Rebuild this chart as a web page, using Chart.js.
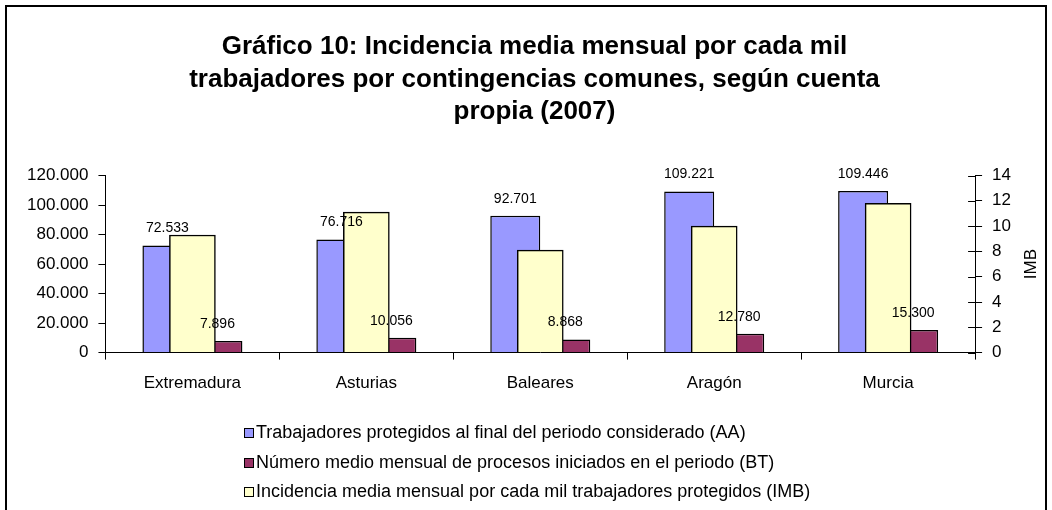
<!DOCTYPE html>
<html>
<head>
<meta charset="utf-8">
<title>Gráfico 10</title>
<script src="https://cdn.jsdelivr.net/npm/chart.js"></script>
<style>
  body { margin: 0; background: #fff; overflow: hidden; }
  #wrap { position: relative; width: 1052px; height: 510px; overflow: hidden; }
  #chart { position: absolute; left: 0; top: 0; }
  #frame { position: absolute; left: 5px; top: 5px; width: 1038px; height: 530px;
           border: 2px solid #000; pointer-events: none; }
</style>
</head>
<body>
<div id="wrap">
  <canvas id="chart" width="1052" height="510"></canvas>
  <div id="frame"></div>
</div>
<script>
// data
const regions = ['Extremadura', 'Asturias', 'Baleares', 'Aragón', 'Murcia'];
const trabajadoresAA = [72533, 76716, 92701, 109221, 109446];
const procesosBT = [7896, 10056, 8868, 12780, 15300];
const incidenciaIMB = [9.3, 11.1, 8.1, 10.0, 11.8];

const labelAA = 'Trabajadores protegidos al final del periodo considerado (AA)';
const labelBT = 'Número medio mensual de procesos iniciados en el periodo (BT)';
const labelIMB = 'Incidencia media mensual por cada mil trabajadores protegidos (IMB)';
const titleLines = [
    'Gráfico 10: Incidencia media mensual por cada mil',
    'trabajadores por contingencias comunes, según cuenta',
    'propia (2007)'
];

const FONT = '"Liberation Sans", Arial, sans-serif';

function fmtMiles(v) {
    return String(v).replace(/\B(?=(\d{3})+(?!\d))/g, '.');
}

// value labels above the AA and BT bars
const valueLabels = {
    id: 'valueLabels',
    afterDatasetsDraw(chart) {
        const ctx = chart.ctx;
        ctx.save();
        ctx.font = '14px ' + FONT;
        ctx.fillStyle = '#000';
        ctx.textAlign = 'center';
        ctx.textBaseline = 'middle';
        chart.data.datasets.forEach((ds, i) => {
            if (!ds.showValues) return;
            chart.getDatasetMeta(i).data.forEach((bar, j) => {
                ctx.fillText(fmtMiles(ds.data[j]), bar.x, bar.y - 17);
            });
        });
        ctx.restore();
    }
};

// right axis: inner half of tick marks + rotated "IMB" title
const rightAxisExtras = {
    id: 'rightAxisExtras',
    afterDraw(chart) {
        const ctx = chart.ctx;
        const s = chart.scales.y2;
        ctx.save();
        ctx.strokeStyle = '#000';
        ctx.lineWidth = 1;
        s.ticks.forEach((t, i) => {
            const y = Math.round(s.getPixelForTick(i)) + 0.5;
            ctx.beginPath();
            ctx.moveTo(s.left - 7, y);
            ctx.lineTo(s.left, y);
            ctx.stroke();
        });
        ctx.translate(s.left + 56, (s.top + s.bottom) / 2);
        ctx.rotate(-Math.PI / 2);
        ctx.font = '17px ' + FONT;
        ctx.fillStyle = '#000';
        ctx.textAlign = 'center';
        ctx.textBaseline = 'middle';
        ctx.fillText('IMB', 0, 0);
        ctx.restore();
    }
};

// stacked legend below the plot, left aligned
const stackedLegend = {
    id: 'stackedLegend',
    afterDraw(chart) {
        const ctx = chart.ctx;
        const order = [0, 1, 2];
        const rowsY = [433, 463, 492];
        ctx.save();
        ctx.font = '18px ' + FONT;
        ctx.textBaseline = 'middle';
        ctx.textAlign = 'left';
        order.forEach((di, k) => {
            const ds = chart.data.datasets[di];
            const y = rowsY[k];
            ctx.fillStyle = ds.backgroundColor;
            ctx.fillRect(244.5, y - 4.5, 9, 9);
            ctx.strokeStyle = '#000';
            ctx.lineWidth = 1;
            ctx.strokeRect(244.5, y - 4.5, 9, 9);
            ctx.fillStyle = '#000';
            ctx.fillText(ds.label, 256, y);
        });
        ctx.restore();
    }
};

Chart.defaults.font.family = FONT;
Chart.defaults.color = '#000';

new Chart(document.getElementById('chart').getContext('2d'), {
    type: 'bar',
    data: {
        labels: regions,
        datasets: [{
            label: labelAA,
            data: trabajadoresAA,
            yAxisID: 'y',
            backgroundColor: '#9999FF',
            borderColor: '#000',
            borderWidth: 1.5,
            categoryPercentage: 0.575,
            barPercentage: 1,
            order: 1,
            showValues: true
        }, {
            label: labelBT,
            data: procesosBT,
            yAxisID: 'y',
            backgroundColor: '#993366',
            borderColor: '#000',
            borderWidth: 1.5,
            categoryPercentage: 0.575,
            barPercentage: 1,
            order: 1,
            showValues: true
        }, {
            label: labelIMB,
            data: incidenciaIMB,
            yAxisID: 'y2',
            backgroundColor: '#FFFFCC',
            borderColor: '#000',
            borderWidth: 1.5,
            grouped: false,
            barThickness: 46,
            order: 0
        }]
    },
    options: {
        responsive: false,
        animation: false,
        layout: { padding: { left: 17, right: 0, top: 0, bottom: 102 } },
        plugins: {
            legend: { display: false },
            tooltip: { enabled: false },
            title: {
                display: true,
                text: titleLines,
                color: '#000',
                font: { size: 26, weight: 'bold', family: FONT, lineHeight: 1.25 },
                padding: { top: 31, bottom: 47 }
            }
        },
        scales: {
            x: {
                grid: { drawOnChartArea: false, color: '#000', tickLength: 7 },
                border: { color: '#000', width: 1 },
                ticks: { font: { size: 17 }, padding: 14, color: '#000' }
            },
            y: {
                position: 'left',
                min: 0,
                max: 120000,
                grid: { drawOnChartArea: false, color: '#000', tickLength: 7 },
                border: { color: '#000', width: 1 },
                ticks: {
                    stepSize: 20000,
                    padding: 10,
                    font: { size: 17 },
                    color: '#000',
                    callback: v => fmtMiles(v)
                }
            },
            y2: {
                position: 'right',
                min: 0,
                max: 14,
                grid: { drawOnChartArea: false, color: '#000', tickLength: 7 },
                border: { color: '#000', width: 1 },
                ticks: { stepSize: 2, padding: 10, font: { size: 17 }, color: '#000' },
                afterFit: s => { s.width += 31; }
            }
        }
    },
    plugins: [valueLabels, rightAxisExtras, stackedLegend]
});
</script>
</body>
</html>
